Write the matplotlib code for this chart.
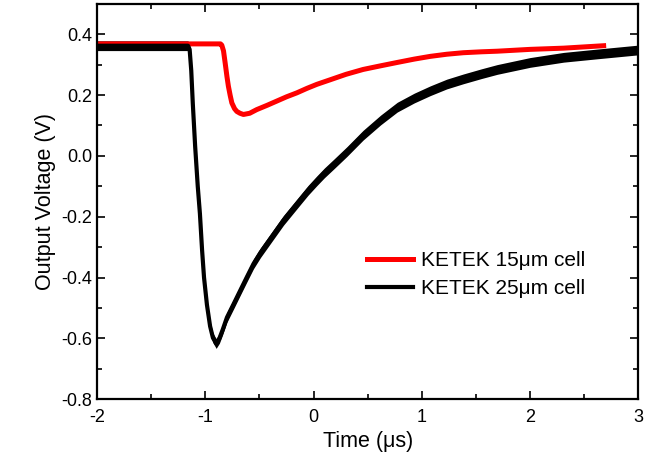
import matplotlib
matplotlib.use("Agg")
import matplotlib.pyplot as plt
from matplotlib.ticker import MultipleLocator, FormatStrFormatter
import numpy as np

plt.rcParams['font.family'] = ['Liberation Sans', 'DejaVu Sans']
plt.rcParams['axes.unicode_minus'] = False

# KETEK 15um cell (red)
t_15 = [-2.0, -1.0, -0.86, -0.848, -0.832, -0.817, -0.80, -0.787, -0.77, -0.755, -0.73,
        -0.709, -0.68, -0.648, -0.59, -0.525, -0.43, -0.34, -0.25, -0.155, -0.06,
        0.03, 0.153, 0.3, 0.458, 0.62, 0.773, 0.93, 1.078, 1.23, 1.383, 1.55,
        1.697, 2.0, 2.31, 2.68]
v_15 = [0.368, 0.368, 0.368, 0.364, 0.345, 0.306, 0.26, 0.229, 0.198, 0.174, 0.155,
        0.146, 0.140, 0.136, 0.140, 0.152, 0.166, 0.180, 0.194, 0.207, 0.222,
        0.235, 0.250, 0.268, 0.284, 0.296, 0.307, 0.318, 0.327, 0.334, 0.339, 0.342,
        0.344, 0.35, 0.354, 0.362]

# KETEK 25um cell (black)
t_25 = [-2.0, -1.16, -1.145, -1.13, -1.116, -1.094, -1.07, -1.05, -1.03, -1.012,
        -0.985, -0.956, -0.93, -0.90, -0.87, -0.84, -0.80, -0.74, -0.678, -0.617,
        -0.555, -0.49, -0.432, -0.35, -0.278, -0.2, -0.124, -0.05, 0.03, 0.1,
        0.184, 0.308, 0.458, 0.62, 0.773, 0.93, 1.078, 1.23, 1.383, 1.55, 1.697,
        2.0, 2.31, 2.62, 3.0]
v_25 = [0.362, 0.362, 0.35, 0.28, 0.174, 0.031, -0.10, -0.19, -0.31, -0.40,
        -0.49, -0.56, -0.598, -0.617, -0.600, -0.572, -0.531, -0.488, -0.443, -0.399,
        -0.355, -0.318, -0.289, -0.248, -0.212, -0.178, -0.145, -0.113, -0.082, -0.056,
        -0.028, 0.014, 0.068, 0.118, 0.160, 0.190, 0.214, 0.236, 0.253, 0.270, 0.284,
        0.307, 0.324, 0.335, 0.348]

labels = ['KETEK 15\u03bcm cell', 'KETEK 25\u03bcm cell']
band = 0.016  # trace noise half width (V)

fig = plt.figure(figsize=(6.56, 4.68), dpi=100)
ax = fig.add_axes([0.148, 0.147, 0.825, 0.845])

ax.plot(t_15, v_15, color='#ff0000', lw=3.6, label=labels[0], solid_joinstyle='round')
ax.plot(t_25, v_25, color='black', lw=3.0, label=labels[1], solid_joinstyle='round')
v25 = np.array(v_25)
ax.fill_between(t_25, v25 - band, v25 + band, color='black', lw=0)

ax.set_xlim(-2, 3)
ax.set_ylim(-0.8, 0.5)
ax.xaxis.set_major_locator(MultipleLocator(1))
ax.xaxis.set_minor_locator(MultipleLocator(0.5))
ax.yaxis.set_major_locator(MultipleLocator(0.2))
ax.yaxis.set_minor_locator(MultipleLocator(0.1))
ax.yaxis.set_major_formatter(FormatStrFormatter('%.1f'))
ax.tick_params(which='both', direction='in', top=True, right=True, width=1.2, labelsize=13)
ax.tick_params(which='major', length=6)
ax.tick_params(which='minor', length=3.5)
ax.tick_params(axis='x', pad=7)
for s in ax.spines.values():
    s.set_linewidth(1.6)

ax.set_xlabel('Time (\u03bcs)', fontsize=15.5)
ax.set_ylabel('Output Voltage (V)', fontsize=15.5)

ax.legend(loc='center left', bbox_to_anchor=(0.465, 0.315), frameon=False, fontsize=15,
          handlelength=2.2, handletextpad=0.35, labelspacing=0.45)

fig.savefig('out.png', dpi=100)
